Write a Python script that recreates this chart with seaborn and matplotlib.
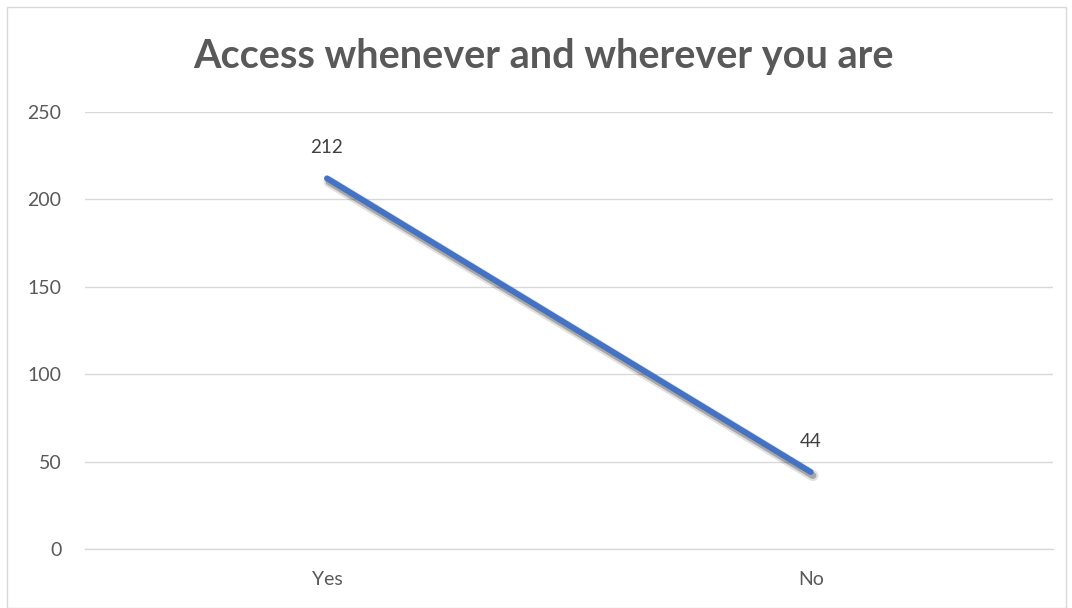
import pandas as pd
import seaborn as sns
import matplotlib.pyplot as plt
import matplotlib.patheffects as pe
from matplotlib.patches import Rectangle

categories = ["Yes", "No"]
counts = [212, 44]
title = "Access whenever and wherever you are"

df = pd.DataFrame({"answer": categories, "count": counts})

sns.set_style("white")
plt.rcParams["font.family"] = ["Lato", "DejaVu Sans"]

fig = plt.figure(figsize=(10.72, 6.08), dpi=100)
ax = fig.add_axes([0.0793, 0.097, 0.9027, 0.719])

# soft drop shadow under the line, like the office chart
sns.lineplot(data=df, x="answer", y="count", ax=ax, color="#4472C4",
             linewidth=4.2, solid_capstyle="round", sort=False,
             path_effects=[pe.SimpleLineShadow(offset=(1.5, -2.5), alpha=0.12, shadow_color="black",
                                               linewidth=8),
                           pe.SimpleLineShadow(offset=(1.5, -2.5), alpha=0.25, shadow_color="black",
                                               linewidth=5),
                           pe.Normal()])

for i, v in enumerate(counts):
    ax.annotate(str(v), (i, v), xytext=(0, 22), textcoords="offset points",
                ha="center", va="center", fontsize=13.5, color="#404040")

ax.set_xlim(-0.5, 1.5)
ax.set_ylim(0, 250)
ax.set_yticks(range(0, 251, 50))
ax.yaxis.grid(True, color="#D9D9D9", linewidth=1)
ax.set_axisbelow(True)
for s in ["top", "right", "left"]:
    ax.spines[s].set_visible(False)
ax.spines["bottom"].set_color("#D9D9D9")
ax.spines["bottom"].set_linewidth(1)
ax.tick_params(axis="y", length=0, labelsize=14, labelcolor="#595959", pad=17)
ax.tick_params(axis="x", length=0, labelsize=14, labelcolor="#595959", pad=16)
ax.set_xlabel("")
ax.set_ylabel("")

fig.text(0.507, 0.907, title, ha="center", va="center", fontsize=28.5,
         fontweight="bold", color="#595959")

fig.patches.append(Rectangle((0.0065, 0.0), 0.988, 0.988, transform=fig.transFigure,
                             fill=False, edgecolor="#D9D9D9", linewidth=1))

fig.savefig("out.png", dpi=100)
